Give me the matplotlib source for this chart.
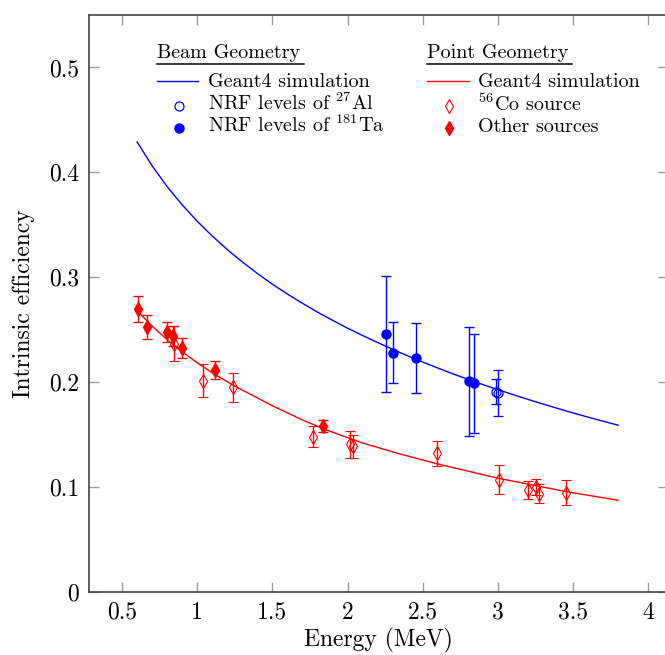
import matplotlib
matplotlib.use("Agg")
import matplotlib.pyplot as plt
from matplotlib.ticker import FuncFormatter, FixedLocator
from matplotlib.lines import Line2D

plt.rcParams['font.family'] = ['cmr10', 'DejaVu Serif']
plt.rcParams['mathtext.fontset'] = 'cm'
plt.rcParams['axes.formatter.use_mathtext'] = True

# ---------------- data ----------------
# Geant4 simulation, beam geometry (blue curve)
beam_sim_E = [0.6, 0.7, 0.8, 0.9, 1.0, 1.1, 1.2, 1.3, 1.4, 1.5, 1.6, 1.7, 1.8, 1.9,
              2.0, 2.1, 2.2, 2.3, 2.4, 2.5, 2.6, 2.7, 2.8, 2.9, 3.0, 3.1, 3.2, 3.3,
              3.4, 3.5, 3.6, 3.7, 3.8]
beam_sim_eff = [0.4290, 0.4062, 0.3864, 0.3690, 0.3534, 0.3393, 0.3264, 0.3146, 0.3036,
                0.2934, 0.2840, 0.2752, 0.2668, 0.2590, 0.2515, 0.2445, 0.2378, 0.2313,
                0.2251, 0.2192, 0.2135, 0.2080, 0.2028, 0.1977, 0.1929, 0.1882, 0.1836,
                0.1792, 0.1749, 0.1707, 0.1667, 0.1628, 0.1590]

# NRF levels of 27Al (open blue circles)
al_E = [2.985, 3.004]
al_eff = [0.191, 0.1895]
al_err = [0.012, 0.022]

# NRF levels of 181Ta (filled blue circles)
ta_E = [2.253, 2.302, 2.453, 2.808, 2.841]
ta_eff = [0.246, 0.228, 0.223, 0.2007, 0.199]
ta_err = [0.055, 0.029, 0.033, 0.052, 0.047]

# Geant4 simulation, point geometry (red curve)
point_sim_E = [0.6, 0.7, 0.8, 0.9, 1.0, 1.1, 1.24, 1.5, 1.7, 1.84, 2.09, 2.35, 2.6, 3.0, 3.46, 3.8]
point_sim_eff = [0.268, 0.2535, 0.2405, 0.2290, 0.2185, 0.2090, 0.1970, 0.1775, 0.1640,
                 0.1555, 0.1425, 0.1315, 0.1220, 0.1085, 0.0955, 0.0875]

# 56Co source (open red diamonds)
co_E = [0.847, 1.038, 1.238, 1.771, 2.015, 2.035, 2.598, 3.010, 3.202, 3.253, 3.273, 3.452]
co_eff = [0.2366, 0.2016, 0.195, 0.1482, 0.141, 0.1387, 0.1323, 0.1069, 0.0973, 0.1005, 0.0935, 0.0948]
co_err = [0.0165, 0.016, 0.014, 0.0104, 0.0128, 0.011, 0.012, 0.0138, 0.0084, 0.0076, 0.009, 0.0122]

# Other sources (filled red diamonds)
oth_E = [0.608, 0.668, 0.796, 0.838, 0.901, 1.118, 1.839]
oth_eff = [0.2697, 0.2526, 0.2478, 0.2436, 0.2325, 0.2118, 0.1584]
oth_err = [0.0125, 0.011, 0.0095, 0.0095, 0.0098, 0.0087, 0.006]

x_ticks = [0.5, 1, 1.5, 2, 2.5, 3, 3.5, 4]
y_ticks = [0, 0.1, 0.2, 0.3, 0.4, 0.5]

# ---------------- figure ----------------
W, H = 665, 655
fig = plt.figure(figsize=(W / 100, H / 100), dpi=100)
L, R, T, B = 89, 668, 15, 592
ax = fig.add_axes([L / W, 1 - B / H, (R - L) / W, (B - T) / H])
ax.set_xlim(0.28, 4.132)
ax.set_ylim(0, 0.55)

BLUE = (0, 0, 1)
RED = (1, 0, 0)

ax.plot(beam_sim_E, beam_sim_eff, color=BLUE, lw=1.0, zorder=2)
ax.plot(point_sim_E, point_sim_eff, color=RED, lw=1.0, zorder=2)

ekw = dict(capsize=3.8, elinewidth=1.0, capthick=1.0, linestyle='none', zorder=3)
ax.errorbar(ta_E, ta_eff, yerr=ta_err, fmt='o', color=BLUE, ms=6.5, **ekw)
ax.errorbar(al_E, al_eff, yerr=al_err, fmt='o', color=BLUE, mfc='none', mec=BLUE, mew=0.9, ms=6.5, **ekw)
ax.errorbar(oth_E, oth_eff, yerr=oth_err, fmt='d', color=RED, ms=7, **ekw)
ax.errorbar(co_E, co_eff, yerr=co_err, fmt='d', color=RED, mfc='none', mec=RED, mew=0.8, ms=7, **ekw)

# axes styling
for s in ax.spines.values():
    s.set_color('#444444')
    s.set_linewidth(1.2)
ax.xaxis.set_major_locator(FixedLocator(x_ticks))
ax.yaxis.set_major_locator(FixedLocator(y_ticks))
fmt = FuncFormatter(lambda v, p: '%g' % v)
ax.xaxis.set_major_formatter(fmt)
ax.yaxis.set_major_formatter(fmt)
ax.tick_params(direction='in', length=7, width=1.0, color='#999999',
               top=True, right=True, labelsize=17, pad=7)
ax.set_xlabel('Energy (MeV)', fontsize=17, labelpad=3)
ax.set_ylabel('Intrinsic efficiency', fontsize=17, labelpad=10)

# ---------------- custom legend ----------------
def fx(px):
    return px / W

def fy(py):
    return 1 - py / H

LFS = 14.5
# headers
for x0, x1, label in [(157, 304, 'Beam Geometry'), (427, 572, 'Point Geometry')]:
    fig.text(fx(x0), fy(58.5), label, fontsize=LFS, va='baseline', ha='left')
    fig.add_artist(Line2D([fx(x0), fx(x1)], [fy(64), fy(64)], color='black', lw=1.1,
                          transform=fig.transFigure))

# simulation lines
fig.add_artist(Line2D([fx(157), fx(198)], [fy(81), fy(81)], color=BLUE, lw=1.0, transform=fig.transFigure))
fig.add_artist(Line2D([fx(427), fx(469)], [fy(81), fy(81)], color=RED, lw=1.0, transform=fig.transFigure))
fig.text(fx(208), fy(87), 'Geant4 simulation', fontsize=LFS, va='baseline')
fig.text(fx(478), fy(87), 'Geant4 simulation', fontsize=LFS, va='baseline')

# markers
fig.add_artist(Line2D([fx(179)], [fy(106)], marker='o', ms=6.5, mfc='none', mec=BLUE, mew=0.9,
                      linestyle='none', transform=fig.transFigure))
fig.add_artist(Line2D([fx(179)], [fy(127.5)], marker='o', ms=6.5, color=BLUE,
                      linestyle='none', transform=fig.transFigure))
fig.add_artist(Line2D([fx(449)], [fy(106)], marker='d', ms=7, mfc='none', mec=RED, mew=0.8,
                      linestyle='none', transform=fig.transFigure))
fig.add_artist(Line2D([fx(449)], [fy(127.5)], marker='d', ms=7, color=RED,
                      linestyle='none', transform=fig.transFigure))

fig.text(fx(208), fy(110), r'NRF levels of $^{27}$Al', fontsize=LFS, va='baseline')
fig.text(fx(208), fy(132), r'NRF levels of $^{181}$Ta', fontsize=LFS, va='baseline')
fig.text(fx(478), fy(111), r'$^{56}$Co source', fontsize=LFS, va='baseline')
fig.text(fx(478), fy(132), 'Other sources', fontsize=LFS, va='baseline')

fig.savefig('out.png', dpi=100)
